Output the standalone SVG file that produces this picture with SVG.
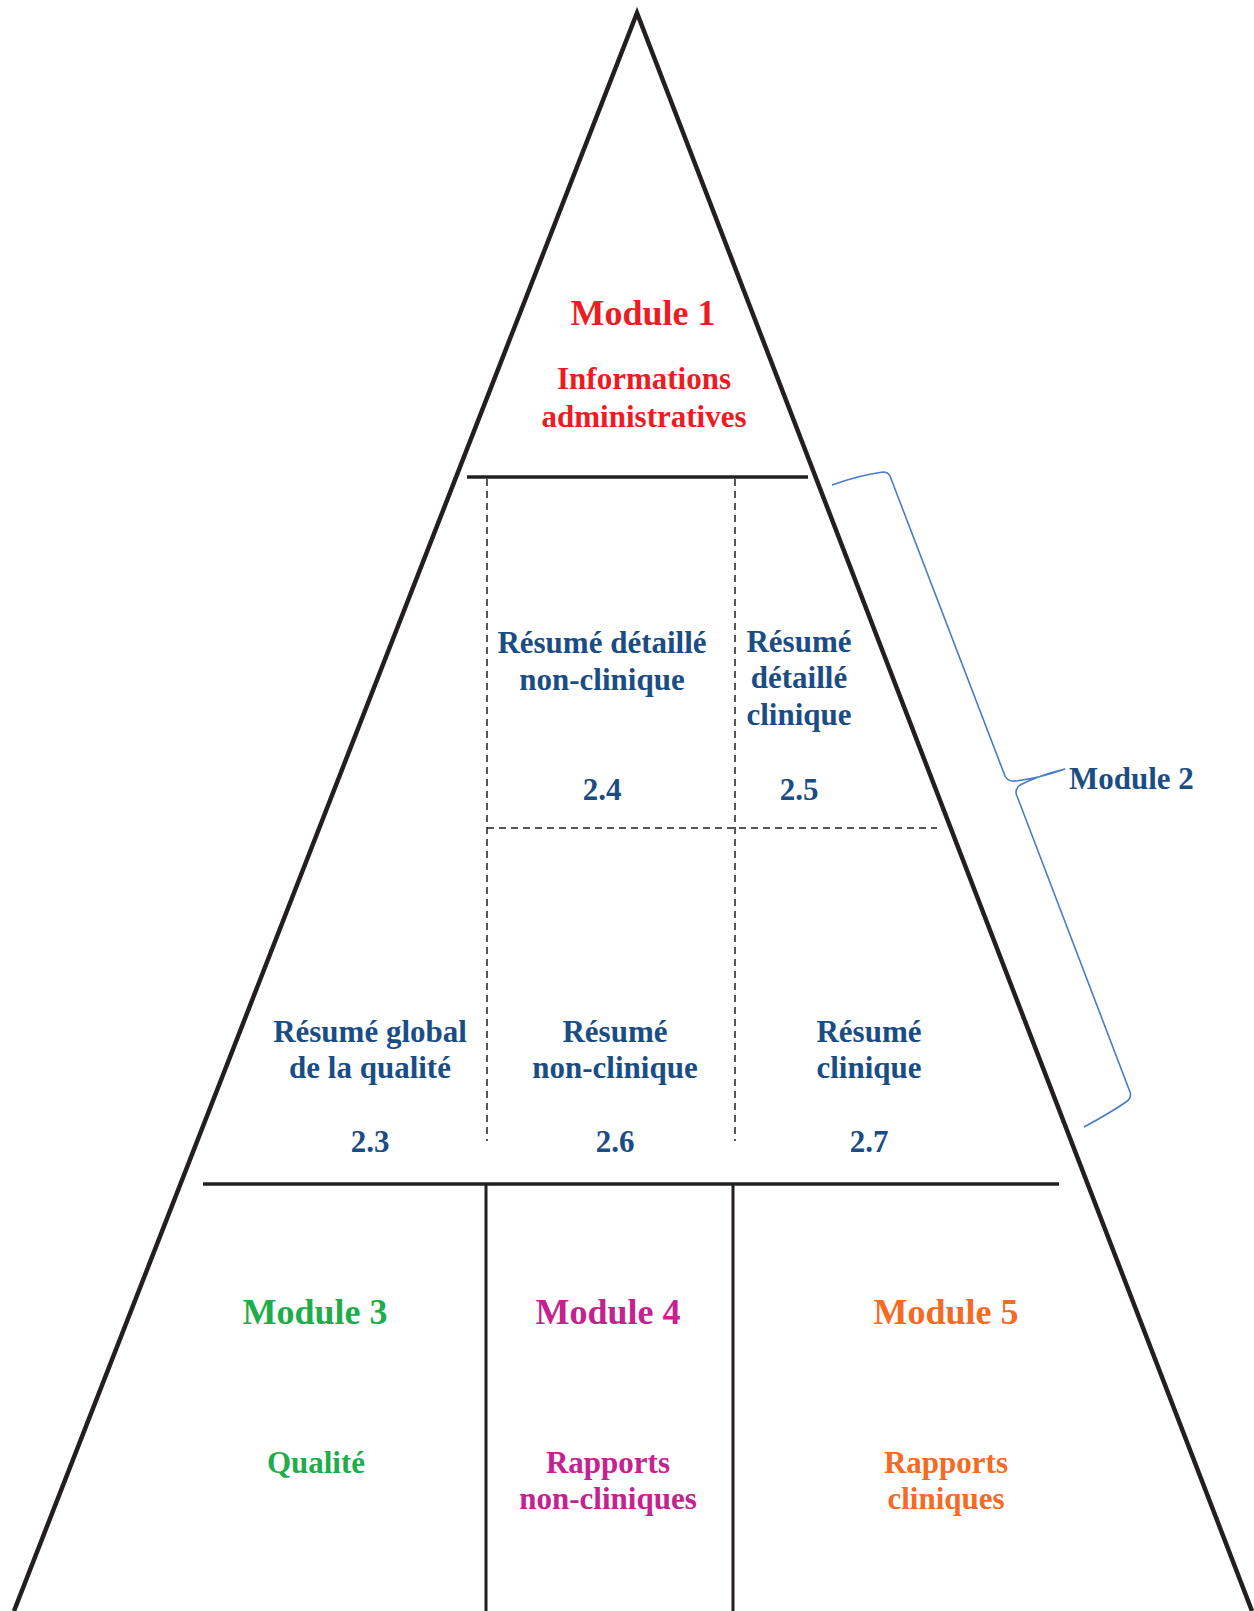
<svg xmlns="http://www.w3.org/2000/svg" width="1254" height="1611" viewBox="0 0 1254 1611">
<style>
.t{font-family:"Liberation Serif","Times New Roman",serif;font-weight:bold;text-anchor:middle}
.blue{fill:#1b4d85;font-size:31px}
.solid{stroke:#231f20;fill:none}
.dash{stroke:#231f20;stroke-width:1.5;stroke-dasharray:7 5;fill:none}
.brace{stroke:#4a7cc4;stroke-width:1.6;fill:none}
</style>
<rect width="1254" height="1611" fill="#ffffff"/>
<g id="connectors">
<path class="solid" stroke-width="4.5" stroke-linejoin="miter" d="M14,1611 L637,13 L1252,1611"/>
<line class="solid" stroke-width="3.5" x1="467" y1="477" x2="808" y2="477"/>
<line class="solid" stroke-width="3.5" x1="203" y1="1184" x2="1059" y2="1184"/>
<line class="solid" stroke-width="3" x1="486" y1="1184" x2="486" y2="1611"/>
<line class="solid" stroke-width="3" x1="733" y1="1184" x2="733" y2="1611"/>
<line class="dash" x1="487" y1="479" x2="487" y2="1141"/>
<line class="dash" x1="735" y1="479" x2="735" y2="1141"/>
<line class="dash" x1="487" y1="828" x2="937" y2="828"/>
<path class="brace" d="M832,485 Q860,475 883,472 Q888,472 890,476 L1005,776 Q1008,782 1016,781 Q1040,778 1065,769 Q1040,775 1020,785 Q1014,790 1017,796 L1130,1092 Q1132,1098 1126,1102 Q1110,1113 1084,1127"/>
</g>
<g id="module1">
<text class="t" x="643" y="325" font-size="36" fill="#ed1c24">Module 1</text>
<text class="t" x="644" y="389" font-size="31" fill="#ed1c24">Informations</text>
<text class="t" x="644" y="427" font-size="31" fill="#ed1c24">administratives</text>
</g>
<g id="module2-label">
<text class="t blue" x="1069" y="789" style="text-anchor:start">Module 2</text>
</g>
<g id="node-2-4">
<text class="t blue" x="602" y="653">Résumé détaillé</text>
<text class="t blue" x="602" y="690">non-clinique</text>
<text class="t blue" x="602" y="800">2.4</text>
</g>
<g id="node-2-5">
<text class="t blue" x="799" y="652">Résumé</text>
<text class="t blue" x="799" y="688">détaillé</text>
<text class="t blue" x="799" y="725">clinique</text>
<text class="t blue" x="799" y="800">2.5</text>
</g>
<g id="node-2-3">
<text class="t blue" x="370" y="1042">Résumé global</text>
<text class="t blue" x="370" y="1078">de la qualité</text>
<text class="t blue" x="370" y="1152">2.3</text>
</g>
<g id="node-2-6">
<text class="t blue" x="615" y="1042">Résumé</text>
<text class="t blue" x="615" y="1078">non-clinique</text>
<text class="t blue" x="615" y="1152">2.6</text>
</g>
<g id="node-2-7">
<text class="t blue" x="869" y="1042">Résumé</text>
<text class="t blue" x="869" y="1078">clinique</text>
<text class="t blue" x="869" y="1152">2.7</text>
</g>
<g id="module3">
<text class="t" x="315" y="1324" font-size="36" fill="#1fad4b">Module 3</text>
<text class="t" x="316" y="1473" font-size="31" fill="#1fad4b">Qualité</text>
</g>
<g id="module4">
<text class="t" x="608" y="1324" font-size="36" fill="#c6228f">Module 4</text>
<text class="t" x="608" y="1473" font-size="31" fill="#c6228f">Rapports</text>
<text class="t" x="608" y="1509" font-size="31" fill="#c6228f">non-cliniques</text>
</g>
<g id="module5">
<text class="t" x="946" y="1324" font-size="36" fill="#f36b25">Module 5</text>
<text class="t" x="946" y="1473" font-size="31" fill="#f36b25">Rapports</text>
<text class="t" x="946" y="1509" font-size="31" fill="#f36b25">cliniques</text>
</g>
</svg>
